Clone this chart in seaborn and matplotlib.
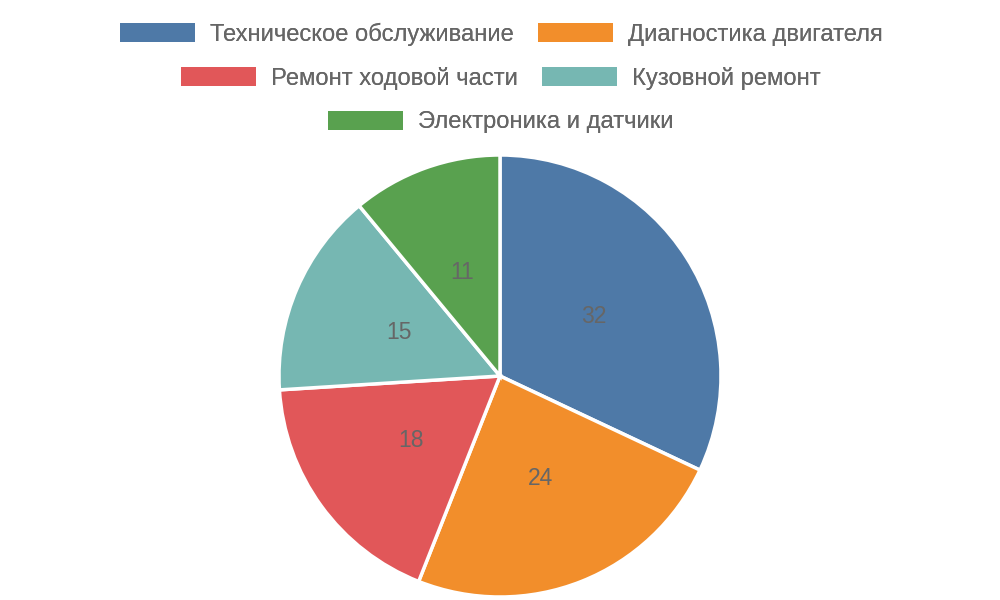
import matplotlib
matplotlib.use("Agg")
import matplotlib.pyplot as plt
import seaborn as sns

categories = ["Техническое обслуживание", "Диагностика двигателя", "Ремонт ходовой части",
              "Кузовной ремонт", "Электроника и датчики"]
values = [32, 24, 18, 15, 11]
colors = ["#4e79a7", "#f28e2b", "#e15759", "#76b7b2", "#59a14f"]

sns.set_theme(style="white")
plt.rcParams['font.family'] = ['Liberation Sans', 'DejaVu Sans']

palette = sns.color_palette(colors)

fig = plt.figure(figsize=(10, 6), dpi=100)
r_px = 221
cx, cy = 500, 376
ax = fig.add_axes([(cx - r_px) / 1000, (600 - cy - r_px) / 600, 2 * r_px / 1000, 2 * r_px / 600])

wedges, texts = ax.pie(values, colors=palette, startangle=90, counterclock=False,
                       labels=[str(v) for v in values], labeldistance=0.5,
                       wedgeprops=dict(edgecolor="white", linewidth=2.5),
                       textprops=dict(color="#666666", fontsize=16.5, ha="center", va="center"))
ax.set_xlim(-1, 1)
ax.set_ylim(-1, 1)
ax.set_aspect("equal")

fs = 17.1
px = fs * 100 / 72
rows = [[0, 1], [2, 3], [4]]
ys = [34, 78, 122]
for row, y in zip(rows, ys):
    leg = fig.legend([wedges[i] for i in row], [categories[i] for i in row],
                     loc="center", bbox_to_anchor=(0.501, 1 - y / 600), ncol=len(row),
                     frameon=False, fontsize=fs, handlelength=75 / px, handleheight=20 / px,
                     handletextpad=15 / px, columnspacing=24 / px, labelcolor="#666666",
                     borderpad=0, borderaxespad=0)
    for h in leg.legend_handles:
        h.set_edgecolor("none")
    fig.add_artist(leg)

fig.savefig("out.png", dpi=100)
